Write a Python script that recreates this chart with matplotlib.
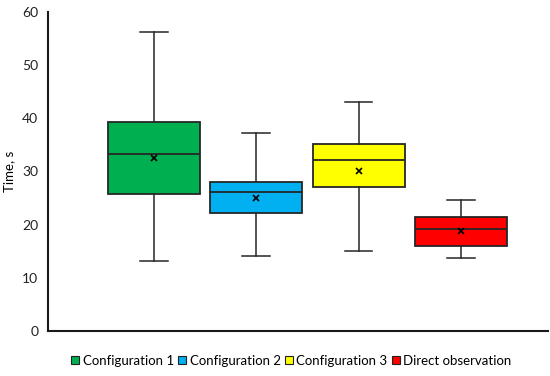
import matplotlib.pyplot as plt
from matplotlib.patches import Patch

plt.rcParams['font.family'] = ['Lato', 'DejaVu Sans']

# box statistics
labels = ["Configuration 1", "Configuration 2", "Configuration 3", "Direct observation"]
whisker_low = [13.2, 14.1, 15.1, 13.8]
q1 = [25.7, 22.1, 27.1, 16.0]
median = [33.2, 26.1, 32.1, 19.2]
q3 = [39.4, 28.1, 35.2, 21.4]
whisker_high = [56.2, 37.2, 43.1, 24.7]
mean = [32.6, 25.0, 30.0, 18.8]
colors = ["#00B050", "#00B0F0", "#FFFF00", "#FF0000"]

stats = []
for i, lab in enumerate(labels):
    stats.append({
        "label": lab, "whislo": whisker_low[i], "q1": q1[i], "med": median[i],
        "q3": q3[i], "whishi": whisker_high[i], "mean": mean[i], "fliers": [],
    })

fig = plt.figure(figsize=(5.5, 3.76), dpi=100)
ax = fig.add_axes([0.0873, 0.1197, 0.909, 0.8484])

edge = "#262626"
bp = ax.bxp(stats, positions=[1, 2, 3, 4], widths=0.9, patch_artist=True,
            showmeans=True, manage_ticks=False,
            boxprops=dict(edgecolor=edge, linewidth=1.3),
            medianprops=dict(color=edge, linewidth=1.3),
            whiskerprops=dict(color=edge, linewidth=1.1),
            capprops=dict(color=edge, linewidth=1.1),
            meanprops=dict(marker="x", markeredgecolor="black", markersize=4, markeredgewidth=1.2),
            capwidths=0.27)
for box, c in zip(bp["boxes"], colors):
    box.set_facecolor(c)

ax.set_ylim(0, 60)
ax.set_xlim(1 - 1.035, 4 + 0.85)
ax.set_yticks(range(0, 61, 10))
ax.set_xticks([])
ax.tick_params(axis="y", length=0, labelsize=10, pad=7, colors="#222222")
ax.set_ylabel("Time, s", fontsize=9.5)
ax.yaxis.set_label_coords(-0.066, 0.5)
for side in ["top", "right"]:
    ax.spines[side].set_visible(False)
for side in ["left", "bottom"]:
    ax.spines[side].set_linewidth(1.5)
    ax.spines[side].set_color("#1a1a1a")

handles = [Patch(facecolor=c, edgecolor="#222222", linewidth=0.8) for c in colors]
fig.legend(handles, labels, loc="center", bbox_to_anchor=(0.53, 0.04), ncol=4,
           frameon=False, fontsize=9.5, handlelength=0.6, handleheight=0.6,
           handletextpad=0.25, columnspacing=0.35)

fig.savefig("out.png", dpi=100)
